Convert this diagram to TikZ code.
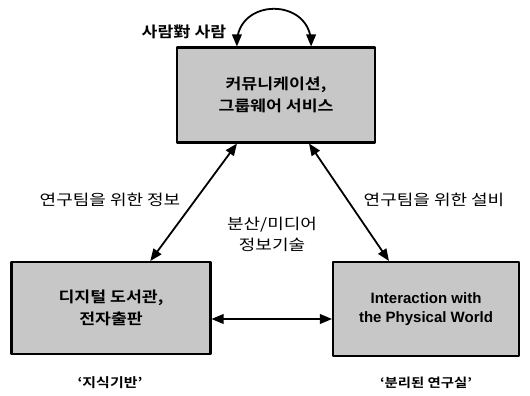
\documentclass[tikz,border=0pt]{standalone}
\usepackage{fontspec}
\setmainfont{Liberation Sans}
\newfontfamily\kor[FakeStretch=1.2]{Noto Sans CJK KR}
\newfontfamily\korb[FakeStretch=1.15]{Noto Sans CJK KR Bold}
\usetikzlibrary{arrows}

\tikzset{
  areabox/.style={draw,line width=2.2pt,fill=black!22,minimum width=#1,align=center,inner sep=0pt},
  conn/.style={line width=1.8pt,<->}
}

\begin{document}
\begin{tikzpicture}[line join=round,>=triangle 45,x=1pt,y=1pt]
\useasboundingbox (0,0) rectangle (530,396);
% the three areas
\node[areabox=198pt,minimum height=95pt,font=\korb\fontsize{15}{22}\selectfont] (comm) at (276,301)
  {커뮤니케이션,\\ 그룹웨어 서비스};
\node[areabox=199pt,minimum height=92pt,font=\korb\fontsize{15}{22}\selectfont] (lib) at (111,88)
  {디지털 도서관,\\ 전자출판};
\node[areabox=186pt,minimum height=94pt,font=\bfseries\fontsize{15}{19}\selectfont] (phys) at (426,87)
  {Interaction with\\ the Physical World};
% links
\draw[conn] ([xshift=61pt]comm.north west) to[out=90,in=90,looseness=1.7] ([xshift=-65pt]comm.north east);
\draw[conn] ([xshift=61pt]comm.south west) -- ([xshift=140pt]lib.north west);
\draw[conn] ([xshift=-67pt]comm.south east) -- ([xshift=57pt]phys.north west);
\draw[conn] ([yshift=-11pt]lib.east) -- ([yshift=-11pt]lib.east -| phys.west);
% labels
\node[font=\korb\fontsize{15}{18}\selectfont] (pp) at (184,364) {사람對 사람};
\node[font=\kor\fontsize{15}{18}\selectfont] (info) at (110,196) {연구팀을 위한 정보};
\node[font=\kor\fontsize{15}{18}\selectfont] (equip) at (434,196) {연구팀을 위한 설비};
\node[font=\kor\fontsize{15}{21}\selectfont,align=center] (tech) at (272,162) {분산/미디어\\ 정보기술};
\node[font=\korb\fontsize{13}{16}\selectfont] (know) at (110,13) {‘지식기반’};
\node[font=\korb\fontsize{12.5}{16}\selectfont] (lab) at (426,13) {‘분리된 연구실’};
\end{tikzpicture}
\end{document}
